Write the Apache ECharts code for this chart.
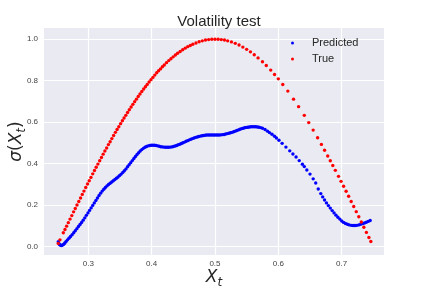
<!DOCTYPE html>
<html><head><meta charset="utf-8">
<script src="https://cdn.jsdelivr.net/npm/echarts@6/dist/echarts.min.js"></script>
<style>html,body{margin:0;padding:0;background:#fff}#c{width:423px;height:289px}</style>
</head><body><div id="c"></div>
<script>
const xTicks = [0.3, 0.4, 0.5, 0.6, 0.7];
const yTicks = [0.0, 0.2, 0.4, 0.6, 0.8, 1.0];

const predX = [0.2526,0.2535,0.2548,0.2562,0.2578,0.2595,0.2612,0.263,0.265,0.2672,0.2695,0.272,0.2745,0.277,0.2795,0.282,0.2845,0.287,0.2895,0.292,0.2945,0.297,0.2995,0.302,0.3045,0.307,0.3095,0.312,0.3145,0.317,0.3195,0.322,0.3245,0.327,0.3295,0.332,0.3345,0.337,0.3395,0.342,0.3445,0.347,0.3495,0.352,0.3545,0.357,0.3595,0.362,0.3645,0.367,0.3695,0.372,0.3745,0.377,0.3795,0.382,0.3845,0.387,0.3895,0.392,0.3945,0.397,0.3995,0.402,0.4045,0.407,0.4095,0.412,0.4145,0.417,0.4195,0.422,0.4245,0.427,0.4295,0.432,0.4345,0.437,0.4395,0.442,0.4445,0.447,0.4495,0.452,0.4545,0.457,0.4595,0.462,0.4645,0.467,0.4695,0.472,0.4745,0.477,0.4795,0.482,0.4845,0.487,0.4895,0.492,0.4945,0.497,0.4995,0.502,0.5045,0.507,0.5095,0.512,0.5145,0.517,0.5195,0.522,0.5245,0.527,0.5295,0.532,0.5345,0.537,0.5395,0.542,0.5445,0.547,0.5495,0.552,0.5545,0.557,0.5595,0.562,0.5645,0.567,0.5695,0.572,0.575,0.579,0.583,0.586,0.59,0.594,0.597,0.601,0.606,0.612,0.618,0.623,0.628,0.633,0.638,0.641,0.645,0.65,0.655,0.659,0.663,0.667,0.67,0.673,0.676,0.679,0.682,0.685,0.688,0.691,0.694,0.697,0.7,0.703,0.706,0.709,0.712,0.715,0.718,0.721,0.724,0.727,0.73,0.733,0.736,0.739,0.742,0.745];
const predY = [0.024,0.016,0.010,0.007,0.006,0.008,0.012,0.018,0.025,0.033,0.041,0.049,0.058,0.067,0.077,0.087,0.097,0.107,0.117,0.128,0.139,0.151,0.163,0.175,0.187,0.199,0.211,0.223,0.235,0.247,0.258,0.268,0.277,0.285,0.293,0.300,0.306,0.312,0.318,0.324,0.330,0.336,0.343,0.350,0.358,0.366,0.375,0.385,0.395,0.405,0.415,0.425,0.435,0.444,0.453,0.461,0.468,0.474,0.479,0.483,0.486,0.488,0.489,0.489,0.489,0.488,0.486,0.484,0.482,0.481,0.480,0.479,0.479,0.479,0.480,0.481,0.483,0.485,0.488,0.491,0.494,0.497,0.501,0.504,0.508,0.511,0.515,0.518,0.521,0.524,0.527,0.529,0.531,0.533,0.535,0.536,0.537,0.538,0.538,0.538,0.538,0.538,0.538,0.538,0.538,0.538,0.539,0.540,0.541,0.543,0.545,0.547,0.549,0.551,0.554,0.557,0.560,0.563,0.566,0.569,0.571,0.573,0.575,0.576,0.577,0.578,0.578,0.578,0.578,0.577,0.576,0.574,0.571,0.565,0.557,0.550,0.542,0.532,0.524,0.513,0.498,0.480,0.462,0.447,0.432,0.415,0.397,0.386,0.370,0.350,0.327,0.307,0.278,0.256,0.240,0.225,0.211,0.198,0.186,0.174,0.163,0.152,0.142,0.133,0.124,0.117,0.112,0.108,0.105,0.103,0.102,0.102,0.103,0.105,0.108,0.111,0.114,0.118,0.122,0.126];

const trueX = [0.2526,0.2553,0.2606,0.2632,0.2658,0.2685,0.2712,0.274,0.2768,0.2795,0.2822,0.285,0.2878,0.2905,0.2932,0.296,0.2988,0.3015,0.3042,0.307,0.3098,0.3125,0.3152,0.318,0.3208,0.3235,0.3262,0.329,0.3318,0.3345,0.3372,0.34,0.3428,0.3455,0.3482,0.351,0.3538,0.3565,0.3592,0.362,0.3648,0.3676,0.3704,0.3732,0.376,0.3788,0.3816,0.3845,0.3874,0.3902,0.393,0.396,0.399,0.402,0.405,0.408,0.411,0.414,0.417,0.42,0.4235,0.427,0.4305,0.434,0.4375,0.441,0.445,0.449,0.453,0.457,0.461,0.465,0.47,0.475,0.48,0.485,0.49,0.495,0.5,0.505,0.51,0.515,0.52,0.526,0.532,0.538,0.544,0.55,0.556,0.562,0.568,0.575,0.581,0.588,0.594,0.6,0.607,0.615,0.624,0.632,0.641,0.648,0.655,0.662,0.668,0.673,0.678,0.682,0.686,0.69,0.695,0.699,0.703,0.707,0.711,0.715,0.719,0.723,0.727,0.731,0.735,0.739,0.743,0.746];
const trueY = [0.016,0.033,0.067,0.083,0.099,0.116,0.133,0.150,0.168,0.184,0.201,0.218,0.235,0.252,0.268,0.285,0.302,0.318,0.334,0.351,0.367,0.383,0.398,0.414,0.430,0.446,0.461,0.476,0.492,0.506,0.521,0.536,0.551,0.565,0.578,0.593,0.607,0.620,0.633,0.647,0.660,0.673,0.686,0.699,0.711,0.724,0.736,0.748,0.760,0.771,0.782,0.794,0.805,0.816,0.827,0.838,0.848,0.857,0.867,0.876,0.887,0.897,0.906,0.915,0.924,0.932,0.941,0.949,0.957,0.964,0.970,0.976,0.982,0.988,0.992,0.996,0.998,1.000,1.000,1.000,0.998,0.996,0.992,0.987,0.980,0.972,0.962,0.951,0.939,0.925,0.910,0.891,0.873,0.851,0.830,0.809,0.782,0.750,0.711,0.675,0.633,0.598,0.562,0.525,0.493,0.465,0.437,0.414,0.391,0.368,0.339,0.315,0.291,0.267,0.243,0.218,0.194,0.169,0.144,0.119,0.094,0.069,0.044,0.025];

const pred = predX.map((x, i) => [x, predY[i]]);
const tru = trueX.map((x, i) => [x, trueY[i]]);

const chart = echarts.init(document.getElementById('c'), null, {renderer: 'canvas'});
const FONT = 'Liberation Sans';
const MATH = 'DejaVu Sans';
chart.setOption({
  animation: false,
  backgroundColor: '#ffffff',
  title: {
    text: 'Volatility test', left: 214, top: 9, textAlign: 'center',
    textStyle: {fontFamily: FONT, fontSize: 15, fontWeight: 'normal', color: '#262626'}
  },
  legend: {
    orient: 'vertical', left: 291, top: 35, padding: 0, itemGap: 0,
    itemWidth: 29, itemHeight: 3,
    data: [{name: 'Predicted', icon: 'circle'}, {name: 'True', icon: 'circle'}],
    textStyle: {fontFamily: FONT, fontSize: 11, color: '#262626', lineHeight: 16}
  },
  grid: {left: 44, right: 39, top: 28, bottom: 34, show: true, backgroundColor: '#EAEAF2', borderWidth: 0,
    containLabel: false, outerBoundsMode: 'none'},
  xAxis: {
    type: 'value', min: 0.2301, max: 0.7668,
    axisLine: {show: false},
    axisTick: {show: false, customValues: xTicks},
    axisLabel: {customValues: xTicks, fontFamily: FONT, fontSize: 8, color: '#444', margin: 5,
      formatter: v => v.toFixed(1)},
    splitLine: {show: true, lineStyle: {color: '#ffffff', width: 1.2}},
    name: '{i|X}{s|t}', nameLocation: 'middle', nameGap: 13, nameMoveOverlap: false,
    nameTextStyle: {rich: {
      i: {fontFamily: MATH, fontStyle: 'italic', fontSize: 17, lineHeight: 20, color: '#262626'},
      s: {fontFamily: MATH, fontStyle: 'italic', fontSize: 12, lineHeight: 12, padding: [10, 0, 0, 0], color: '#262626'}
    }}
  },
  yAxis: {
    type: 'value', min: -0.04, max: 1.054,
    axisLine: {show: false},
    axisTick: {show: false, customValues: yTicks},
    axisLabel: {customValues: yTicks, fontFamily: FONT, fontSize: 8, color: '#444', margin: 6,
      formatter: v => v.toFixed(1)},
    splitLine: {show: true, lineStyle: {color: '#ffffff', width: 1.2}},
    name: '{i|σ}{n|(}{i|X}{s|t}{n|)}', nameLocation: 'middle', nameGap: 17, nameRotate: 90, nameMoveOverlap: false,
    nameTextStyle: {rich: {
      i: {fontFamily: MATH, fontStyle: 'italic', fontSize: 17, lineHeight: 20, color: '#262626'},
      n: {fontFamily: MATH, fontSize: 17, lineHeight: 20, color: '#262626'},
      s: {fontFamily: MATH, fontStyle: 'italic', fontSize: 12, lineHeight: 12, padding: [10, 0, 0, 0], color: '#262626'}
    }}
  },
  series: [
    {name: 'Predicted', type: 'scatter', data: pred, symbolSize: 3.4,
      itemStyle: {color: '#0000ff', opacity: 1}, silent: true},
    {name: 'True', type: 'scatter', data: tru, symbolSize: 3.4,
      itemStyle: {color: '#ff0000', opacity: 1}, silent: true}
  ]
});
</script></body></html>
